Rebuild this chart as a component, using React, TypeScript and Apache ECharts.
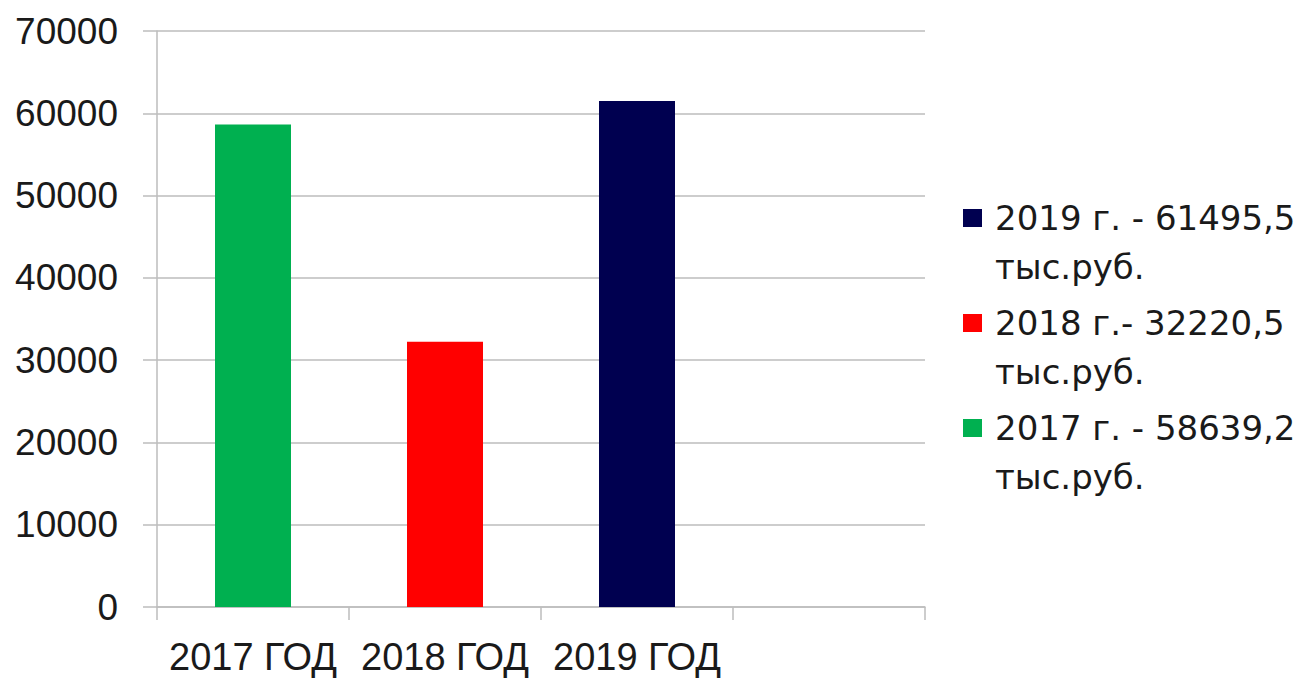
import React, { useEffect, useRef } from "react";
import * as echarts from "echarts";

const categories = ["2017 ГОД", "2018 ГОД", "2019 ГОД", ""];
const seriesNames = [
  "2017 г. - 58639,2 тыс.руб.",
  "2018 г.- 32220,5 тыс.руб.",
  "2019 г. - 61495,5 тыс.руб.",
];
const values = [58639.2, 32220.5, 61495.5];
const colors = ["#00B050", "#FF0000", "#000050"];
const legendOrder = [2, 1, 0];
const yTicks = { min: 0, max: 70000, interval: 10000 };

export default function App() {
  const ref = useRef<HTMLDivElement>(null);
  useEffect(() => {
    document.body.style.margin = "0";
    const chart = echarts.init(ref.current!, null, { renderer: "svg" });
    const gridColor = "#bdbdbd";
    const axisFont = "'Liberation Sans', Arial, sans-serif";
    chart.setOption({
      animation: false,
      backgroundColor: "#ffffff",
      grid: { left: 157, right: 379, top: 31, bottom: 72 },
      legend: {
        orient: "vertical",
        left: 958,
        top: 188,
        itemWidth: 27,
        itemHeight: 98,
        itemGap: 7,
        icon: "path://M0,16h19v18h-19z M0,0h0 M27,98h0",
        data: legendOrder.map((i) => seriesNames[i]),
        formatter: (name: string) => name.replace(" тыс.руб.", "\nтыс.руб."),
        textStyle: {
          fontFamily: "'DejaVu Sans', Verdana, sans-serif",
          fontSize: 34,
          lineHeight: 49,
          color: "#1a1a1a",
        },
      },
      xAxis: {
        type: "category",
        data: categories,
        boundaryGap: true,
        axisLine: { show: true, lineStyle: { color: gridColor, width: 1.5 } },
        axisTick: { show: true, length: 13, lineStyle: { color: gridColor, width: 1.5 } },
        axisLabel: {
          interval: 0,
          margin: 31,
          fontFamily: axisFont,
          fontSize: 38,
          color: "#1a1a1a",
        },
        splitLine: { show: false },
      },
      yAxis: {
        type: "value",
        min: yTicks.min,
        max: yTicks.max,
        interval: yTicks.interval,
        axisLine: { show: true, lineStyle: { color: gridColor, width: 1.5 } },
        axisTick: { show: true, length: 14, lineStyle: { color: gridColor, width: 1.5 } },
        axisLabel: {
          margin: 39,
          fontFamily: axisFont,
          fontSize: 37,
          color: "#1a1a1a",
          formatter: (v: number) => String(v),
        },
        splitLine: { show: true, lineStyle: { color: gridColor, width: 1.5 } },
      },
      series: values.map((v, i) => ({
        name: seriesNames[i],
        type: "bar",
        barWidth: 76,
        barGap: "-100%",
        itemStyle: { color: colors[i] },
        data: categories.map((_, j) => (j === i ? v : null)),
      })),
    });
    return () => chart.dispose();
  }, []);
  return <div ref={ref} style={{ width: 1304, height: 679 }} />;
}
